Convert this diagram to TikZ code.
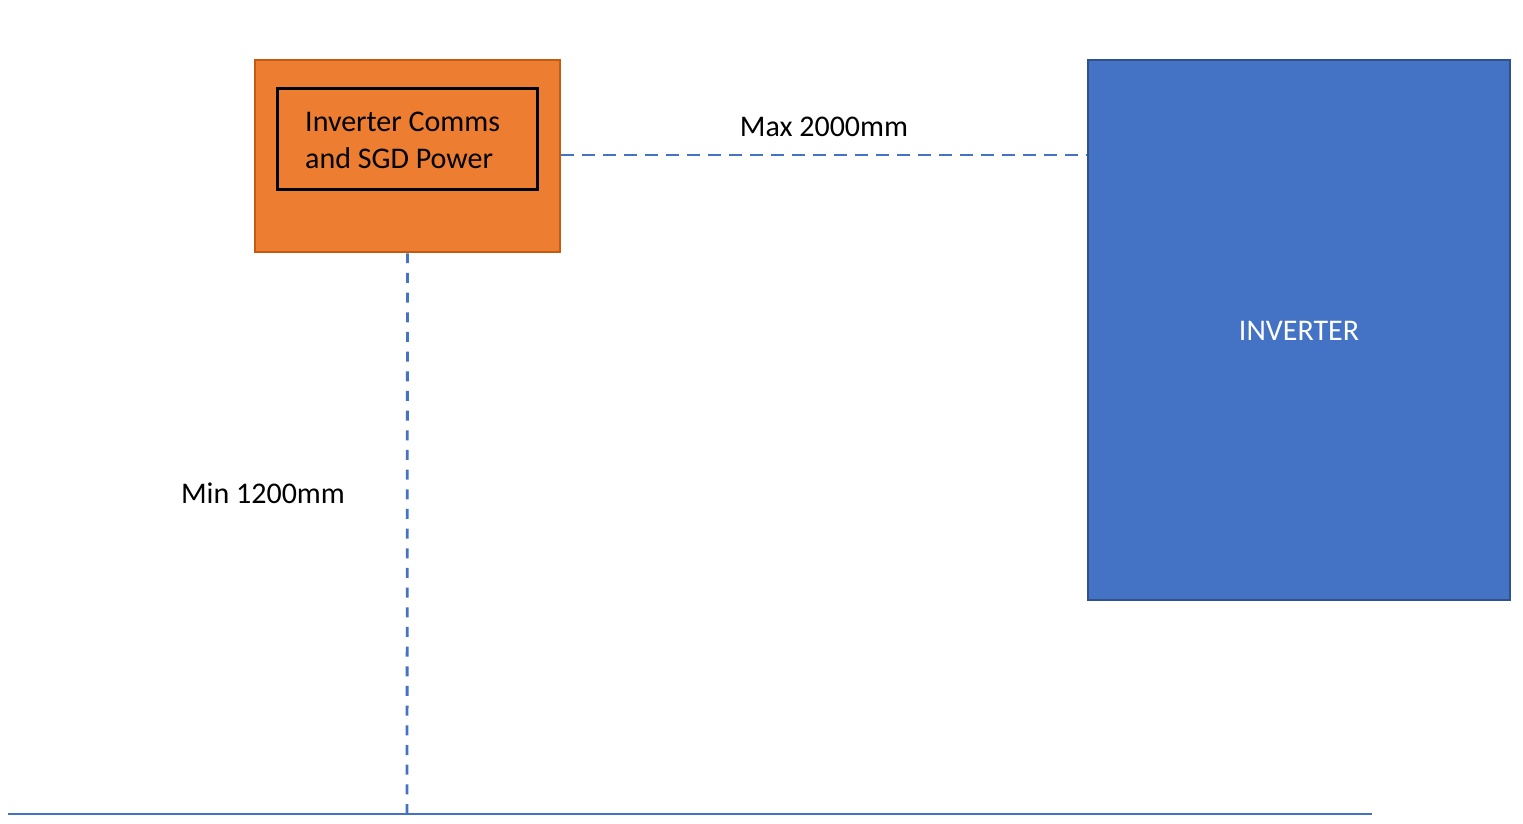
\documentclass[tikz,border=0pt]{standalone}
\usepackage{fontspec}
\setmainfont{Carlito}
\definecolor{orfill}{HTML}{ED7D31}
\definecolor{ordraw}{HTML}{C55A11}
\definecolor{blfill}{HTML}{4472C4}
\definecolor{bldraw}{HTML}{2F528F}
\definecolor{lnblue}{HTML}{4472C4}
\begin{document}
\begin{tikzpicture}[x=1pt,y=-1pt,
  lbl/.style={font=\fontsize{30}{37}\selectfont, text=black, inner sep=0pt},
  dimline/.style={draw=lnblue, line width=2.8pt, dash pattern=on 13pt off 8pt}]
\useasboundingbox (0,0) rectangle (1523,823);
\fill[white] (0,0) rectangle (1523,823);
% orange box
\node[draw=ordraw, fill=orfill, line width=2.5pt, minimum width=305pt, minimum height=192pt, inner sep=0pt] (ob) at (407.5,156) {};
\node[draw=black, line width=3pt, minimum width=260pt, minimum height=101pt, inner sep=0pt] (ib) at (407,138.5) {};
\node[lbl, align=left, anchor=west] (ibt) at (305,140) {Inverter Comms\\and SGD Power};
% inverter
\node[draw=bldraw, fill=blfill, line width=2.5pt, minimum width=422pt, minimum height=540pt, inner sep=0pt] (inv) at (1299,330) {};
\node[lbl, text=white] (invt) at (1299,331) {INVERTER};
% floor
\coordinate (fl) at (8,814);
\coordinate (fr) at (1372,814);
\draw[lnblue, line width=2pt] (fl) -- (fr);
\coordinate (vb) at (407,814);
% dimension lines
\draw[dimline] (ob.east |- 0,155) -- (inv.west |- 0,155);
\draw[dimline, dash pattern=on 10pt off 9.67pt] (vb) -- (ob.south);
\node[lbl] (maxl) at (824,127) {Max 2000mm};
\node[lbl] (minl) at (263,493) {Min 1200mm};
\end{tikzpicture}
\end{document}
